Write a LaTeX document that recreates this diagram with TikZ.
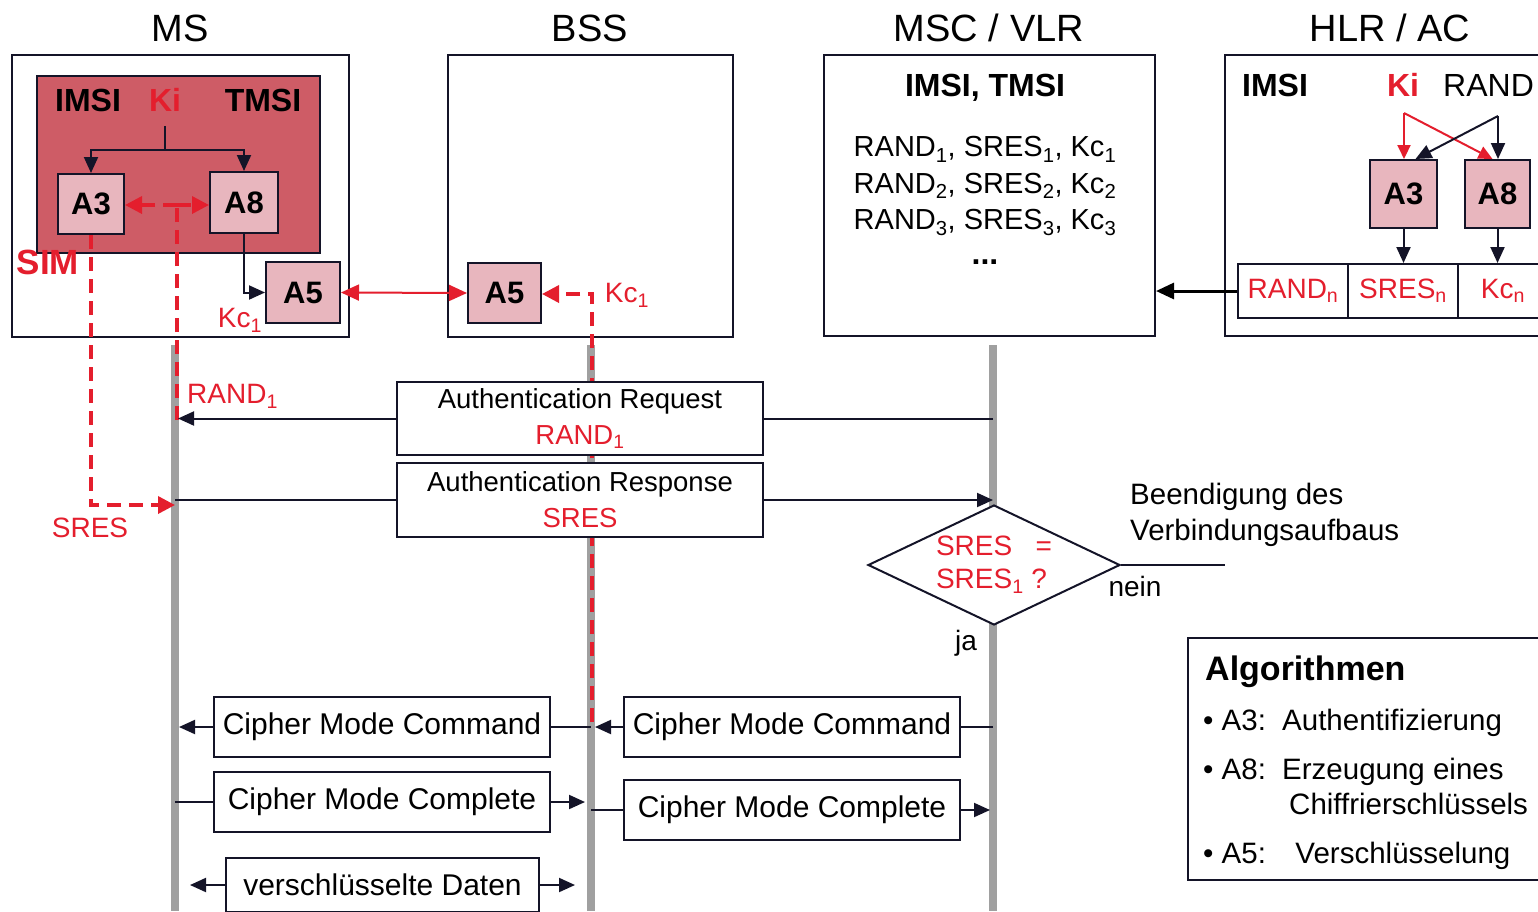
\documentclass[tikz,border=0pt]{standalone}
\usepackage{fontspec}
\setmainfont{Liberation Sans}
\usetikzlibrary{arrows.meta,shapes.geometric}
\definecolor{myred}{RGB}{228,30,45}
\definecolor{simfill}{RGB}{206,92,102}
\definecolor{boxpink}{RGB}{232,182,190}
\definecolor{lifegray}{RGB}{160,160,160}
\definecolor{linecol}{RGB}{20,20,40}
\tikzset{
 frame/.style={draw=linecol,line width=2pt,inner sep=0pt},
 algbox/.style={frame,fill=boxpink,font=\bfseries\fontsize{31}{36}\selectfont},
 hdr/.style={font=\fontsize{38}{44}\selectfont,inner sep=0pt},
 boldtxt/.style={font=\bfseries\fontsize{32}{38}\selectfont,inner sep=0pt},
 txt/.style={font=\fontsize{28}{36}\selectfont,inner sep=0pt},
 msgbox/.style={frame,fill=white,font=\fontsize{27.5}{36}\selectfont,align=center},
 cbox/.style={frame,fill=white,font=\fontsize{30}{36}\selectfont,minimum width=336pt,minimum height=60pt},
 ln/.style={draw=linecol,line width=2pt},
 arr/.style={ln,-{Triangle[length=16pt,width=14pt]}},
 reddash/.style={draw=myred,line width=3.5pt,dash pattern=on 14pt off 8pt},
 redtip/.style={-{Triangle[length=17pt,width=17pt]}},
 redln/.style={draw=myred,line width=2pt},
 life/.style={draw=lifegray,line width=8pt},
}
\begin{document}
\begin{tikzpicture}[x=1pt,y=-1pt]
\useasboundingbox (0,0) rectangle (1538,911);
\clip (0,0) rectangle (1538,911);
\fill[white] (0,0) rectangle (1538,911);

% headers
\node[hdr] (hms) at (180,28) {MS};
\node[hdr] (hbss) at (590,28) {BSS};
\node[hdr] (hmsc) at (989,28) {MSC / VLR};
\node[hdr] (hhlr) at (1390,28) {HLR / AC};

% MS
\node[frame,minimum width=337pt,minimum height=282pt] (msbox) at (180.5,196) {};
\node[frame,fill=simfill,minimum width=283pt,minimum height=177pt] (sim) at (178.5,164.5) {};
\node[boldtxt] (imsi1) at (88,100) {IMSI};
\node[boldtxt,text=myred] (ki1) at (165,100) {Ki};
\node[boldtxt] (tmsi1) at (263,100) {TMSI};
\node[algbox,minimum width=66pt,minimum height=60pt] (a3s) at (91,204) {A3};
\node[algbox,minimum width=68pt,minimum height=61pt] (a8s) at (244,202.5) {A8};
\node[boldtxt,text=myred,font=\bfseries\fontsize{35}{38}\selectfont] (simlbl) at (48,262) {SIM};
\node[algbox,minimum width=74pt,minimum height=61pt] (a5m) at (303,292.5) {A5};
\node[txt,text=myred] (kc1m) at (240,320) {Kc\textsubscript{1}};
\coordinate (kj) at (165,150);
\draw[ln] ([yshift=-14pt]ki1.south) -- (kj);
\draw[arr] (kj) -| (a3s.north);
\draw[arr] (kj) -| (a8s.north);
\draw[arr] (a8s.south) |- (a5m.west);

% BSS
\node[frame,minimum width=285pt,minimum height=282pt] (bssbox) at (590.5,196) {};
\node[algbox,minimum width=73pt,minimum height=60pt] (a5b) at (504.5,293) {A5};
\node[txt,text=myred] (kc1b) at (627,295) {Kc\textsubscript{1}};
\draw[redln,{Triangle[length=18pt,width=16pt]}-{Triangle[length=18pt,width=16pt]}] (a5m.east) -- (a5b.west);

% MSC / VLR
\node[frame,minimum width=331pt,minimum height=281pt] (mscbox) at (989.5,195.5) {};
\node[boldtxt] (imsi2) at (985,88) {IMSI, TMSI};
\node[txt,align=center,font=\fontsize{29}{36.5}\selectfont] (tuples) at (985,186) {RAND\textsubscript{1}, SRES\textsubscript{1}, Kc\textsubscript{1}\\RAND\textsubscript{2}, SRES\textsubscript{2}, Kc\textsubscript{2}\\RAND\textsubscript{3}, SRES\textsubscript{3}, Kc\textsubscript{3}};
\node[boldtxt] (dots) at (985,262) {...};

% HLR / AC
\node[frame,minimum width=334pt,minimum height=281pt] (hlrbox) at (1392,195.5) {};
\node[boldtxt] (imsi3) at (1275,85) {IMSI};
\node[boldtxt,text=myred] (ki3) at (1403,85) {Ki};
\node[txt,anchor=west,font=\fontsize{32}{38}\selectfont] (rand3) at (1443,85) {RAND};
\node[algbox,minimum width=67pt,minimum height=68pt] (a3h) at (1403.5,194) {A3};
\node[algbox,minimum width=65pt,minimum height=68pt] (a8h) at (1497.5,194) {A8};
\node[frame,txt,text=myred,minimum width=110pt,minimum height=54pt] (randn) at (1293,291) {RAND\textsubscript{n}};
\node[frame,txt,text=myred,minimum width=110pt,minimum height=54pt] (sresn) at (1403,291) {SRES\textsubscript{n}};
\node[frame,txt,text=myred,minimum width=90pt,minimum height=54pt] (kcn) at (1503,291) {Kc\textsubscript{n}};
\coordinate (kiH) at (1404,113);
\coordinate (randH) at (1498,116);
\draw[redln,-{Triangle[length=14pt,width=13pt]}] (kiH) -- (kiH |- a3h.north);
\draw[redln,-{Triangle[length=14pt,width=13pt]}] (kiH) -- ([xshift=-5pt]a8h.north);
\draw[arr] (randH) -- (randH |- a8h.north);
\draw[arr] (randH) -- ([xshift=12pt]a3h.north);
\draw[arr] (a3h.south) -- (a3h.south |- sresn.north);
\draw[arr] (a8h.south) -- (a8h.south |- kcn.north);
\draw[draw=black,line width=3pt,-{Triangle[length=18pt,width=16pt]}] (randn.west) -- (mscbox.east |- randn.west);

% lifelines
\coordinate (msT) at (175,345); \coordinate (msB) at (175,911);
\coordinate (bssT) at (591,345); \coordinate (bssB) at (591,911);
\coordinate (mscT) at (993,345); \coordinate (mscB) at (993,911);
\draw[life] (msT) -- (msB);
\draw[life] (bssT) -- (bssB);
\draw[life] (mscT) -- (mscB);

% red dashed paths
\coordinate (rt) at (177,205);
\coordinate (rb) at (177,420);
\draw[reddash] (rb) -- (rt);
\draw[reddash,redtip] (rt) -- (a3s.east |- rt);
\draw[reddash,redtip] (rt) -- (a8s.west |- rt);
\coordinate (sc) at (92,505);
\draw[reddash,redtip] (a3s.south) -- (a3s.south |- sc) -- (msT |- sc);
\node[txt,text=myred] (sreslbl) at (90,528) {SRES};
\node[txt,text=myred,anchor=west] (rand1lbl) at (187,396) {RAND\textsubscript{1}};
\coordinate (kce) at (592,722);
\coordinate (kcb) at (592,294);
\draw[reddash,redtip] (kce) -- (kcb) -- (a5b.east |- kcb);

% authentication messages
\node[msgbox,minimum width=366pt,minimum height=73pt] (areq) at (580,418.5) {Authentication Request\\\textcolor{myred}{RAND\textsubscript{1}}};
\draw[ln] (mscT |- areq.east) -- (areq.east);
\draw[arr,shorten >=3pt] (areq.west) -- (msT |- areq.west);
\node[msgbox,minimum width=366pt,minimum height=74pt] (arsp) at (580,500) {Authentication Response\\\textcolor{myred}{SRES}};
\draw[ln] (msT |- arsp.west) -- (arsp.west);
\draw[arr] (arsp.east) -- (mscT |- arsp.east);

% decision
\node[diamond,draw=linecol,line width=2pt,fill=white,aspect=2.1,inner sep=0pt,minimum width=252pt,minimum height=120pt,text=myred,align=left,font=\fontsize{28}{33}\selectfont] (dia) at (994,565) {SRES\ \ \ =\\SRES\textsubscript{1} ?};
\coordinate (neinE) at (1225,565);
\draw[ln] (dia.east) -- (neinE);
\node[txt] (nein) at (1135,586) {nein};
\node[txt] (ja) at (966,643) {ja};
\node[txt,anchor=west,align=left,font=\fontsize{29.5}{36}\selectfont] (beend) at (1130,515) {Beendigung des\\Verbindungsaufbaus};

% cipher mode
\node[cbox] (cmc1) at (382,727) {Cipher Mode Command};
\node[cbox] (cmc2) at (792,727) {Cipher Mode Command};
\node[cbox] (cmp1) at (382,802) {Cipher Mode Complete};
\node[cbox] (cmp2) at (792,810) {Cipher Mode Complete};
\node[cbox,minimum width=313pt,minimum height=54pt] (vd) at (382.5,885) {verschlüsselte Daten};
\draw[ln] (cmc1.east) -- (bssT |- cmc1.east);
\draw[arr,shorten >=4pt] (cmc1.west) -- (msT |- cmc1.west);
\draw[ln] (mscT |- cmc2.east) -- (cmc2.east);
\draw[arr,shorten >=4pt] (cmc2.west) -- (bssT |- cmc2.west);
\draw[ln] (msT |- cmp1.west) -- (cmp1.west);
\draw[arr,shorten >=6pt] (cmp1.east) -- (bssT |- cmp1.east);
\draw[ln] (bssT |- cmp2.west) -- (cmp2.west);
\draw[arr,shorten >=3pt] (cmp2.east) -- (mscT |- cmp2.east);
\draw[arr,shorten >=15pt] (vd.west) -- (msT |- vd.west);
\draw[arr,shorten >=16pt] (vd.east) -- (bssT |- vd.east);

% algorithms legend
\node[frame,minimum width=372pt,minimum height=242pt] (algbox) at (1374,759) {};
\node[anchor=base west,font=\bfseries\fontsize{34}{38}\selectfont,inner sep=0pt] (algt) at (1205,680) {Algorithmen};
\node[txt,anchor=base west,font=\fontsize{29.5}{36}\selectfont] (al1) at (1203,730) {• A3:\hspace{0.55em}Authentifizierung};
\node[txt,anchor=base west,font=\fontsize{29.5}{36}\selectfont] (al2) at (1203,779) {• A8:\hspace{0.55em}Erzeugung eines};
\node[txt,anchor=base west,font=\fontsize{29.5}{36}\selectfont] (al3) at (1289,814) {Chiffrierschlüssels};
\node[txt,anchor=base west,font=\fontsize{29.5}{36}\selectfont] (al4) at (1203,863) {• A5:\hspace{1em}Verschlüsselung};
\end{tikzpicture}
\end{document}
